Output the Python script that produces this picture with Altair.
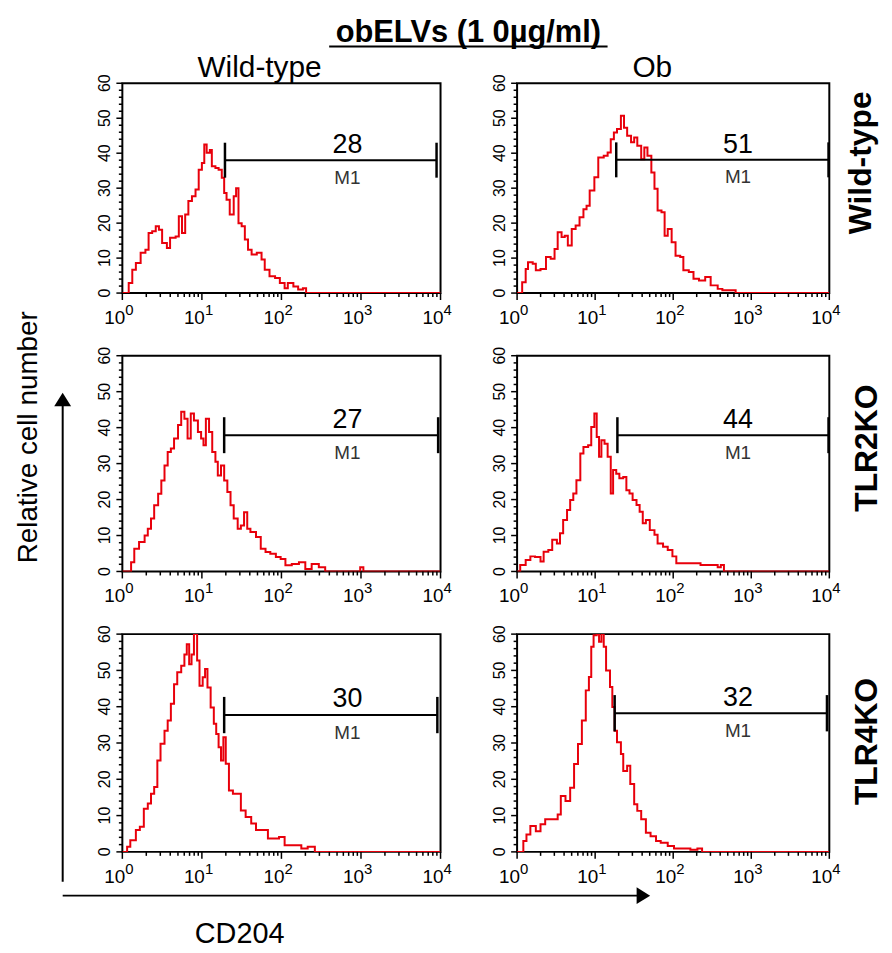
import altair as alt
import pandas as pd

FONT = "Liberation Sans"
RED = "#e8000b"

# ---------------- data ----------------
title_text = "obELVs (1 0\u00b5g/ml)"
col_labels = ["Wild-type", "Ob"]
row_labels = ["Wild-type", "TLR2KO", "TLR4KO"]
y_label = "Relative cell number"
x_label = "CD204"
gate_name = "M1"

# histograms: log10(CD204) positions and cell counts
A_log = [0, 0.08, 0.125, 0.17, 0.23, 0.29, 0.33, 0.375, 0.42, 0.46, 0.5, 0.56, 0.6, 0.67, 0.71, 0.75, 0.79, 0.83, 0.875, 0.92, 0.96, 1.0, 1.03, 1.06, 1.1, 1.125, 1.17, 1.21, 1.25, 1.28, 1.31, 1.35, 1.4, 1.43, 1.46, 1.5, 1.54, 1.58, 1.625, 1.69, 1.75, 1.79, 1.85, 1.92, 1.98, 2.04, 2.08, 2.15, 2.21, 2.27, 2.31, 4.0]
A_n = [0, 2.9, 6.7, 8.6, 11.5, 12.4, 17.2, 17.7, 19.1, 18.1, 14.3, 12.9, 15.8, 16.2, 22, 17.2, 22.5, 26.3, 27.7, 29.6, 35.3, 37.2, 42.5, 40.1, 40.9, 36.3, 35.8, 35.3, 33, 28.6, 26.7, 22.5, 27.7, 30, 20, 19.1, 15.3, 12.4, 11, 11.5, 9.6, 6.7, 4.8, 4.3, 2.9, 1.4, 2.9, 1.9, 1, 1.4, 0, 0]

B_log = [0, 0.065, 0.11, 0.14, 0.2, 0.24, 0.3, 0.37, 0.43, 0.48, 0.52, 0.57, 0.61, 0.65, 0.7, 0.75, 0.8, 0.85, 0.89, 0.93, 0.99, 1.04, 1.11, 1.16, 1.2, 1.24, 1.28, 1.33, 1.37, 1.41, 1.46, 1.5, 1.54, 1.59, 1.63, 1.67, 1.72, 1.76, 1.8, 1.85, 1.89, 1.93, 1.98, 2.03, 2.09, 2.13, 2.2, 2.26, 2.33, 2.41, 2.48, 2.57, 2.63, 2.72, 2.8, 4.0]
B_n = [0, 3.1, 6.9, 8.8, 8.4, 6.5, 6.9, 10.3, 9.8, 12.6, 17.4, 16, 16.4, 13.6, 18.3, 19.3, 21.7, 24, 25, 29.3, 33.1, 38.8, 39.3, 40.2, 44, 45.9, 46.9, 50.7, 47.3, 45, 43.1, 44.5, 42.1, 38.3, 41.6, 39.3, 34.5, 29.8, 23.6, 23.1, 16.4, 18.3, 14.5, 10.7, 10.3, 6.5, 6, 4.1, 3.6, 4.6, 2.2, 1.2, 0.8, 0.8, 0, 0]

C_log = [0, 0.11, 0.15, 0.21, 0.28, 0.32, 0.36, 0.4, 0.45, 0.49, 0.53, 0.57, 0.61, 0.65, 0.7, 0.74, 0.78, 0.82, 0.86, 0.9, 0.95, 0.99, 1.02, 1.05, 1.09, 1.13, 1.17, 1.2, 1.24, 1.28, 1.32, 1.36, 1.4, 1.45, 1.49, 1.53, 1.57, 1.61, 1.68, 1.74, 1.8, 1.86, 1.93, 1.99, 2.05, 2.13, 2.22, 2.3, 2.38, 2.47, 2.55, 2.99, 3.03, 4.0]
C_n = [0, 2.6, 6.3, 8.2, 10, 11.9, 14.7, 18.4, 21.6, 25.3, 29.5, 33.2, 34.2, 37, 40.7, 44.4, 42.5, 37, 43.9, 42, 38.8, 37, 35.1, 42.5, 38.8, 33.2, 30.5, 26.7, 29.5, 25.3, 22.1, 18.4, 14.7, 11.9, 12.8, 16.5, 11.9, 11, 9.6, 6.3, 5.4, 4.9, 4, 3.5, 1.7, 2.1, 2.6, 0.7, 2.1, 1.2, 0, 1.2, 0, 0]

D_log = [0, 0.04, 0.11, 0.17, 0.23, 0.3, 0.34, 0.4, 0.45, 0.51, 0.55, 0.59, 0.64, 0.68, 0.72, 0.76, 0.81, 0.85, 0.91, 0.95, 0.99, 1.02, 1.05, 1.08, 1.12, 1.16, 1.2, 1.23, 1.27, 1.31, 1.36, 1.4, 1.44, 1.48, 1.53, 1.57, 1.61, 1.65, 1.7, 1.76, 1.8, 1.87, 1.93, 1.99, 2.04, 2.35, 2.48, 2.57, 2.61, 2.65, 4.0]
D_n = [0, 1.8, 3.2, 4.2, 4, 2.8, 5.5, 6, 8.8, 7.8, 10.6, 14.3, 17.1, 19.9, 21.7, 25.4, 32.8, 34.6, 35.1, 40.2, 43.9, 37.4, 31.9, 36.5, 35.5, 31.9, 21.7, 28.2, 27.2, 25.9, 26.3, 22.6, 21.7, 19.9, 18.5, 16.6, 13.4, 14.3, 11.5, 10.2, 7.8, 6.9, 6, 4.2, 2.3, 1.8, 1.8, 1.2, 1.8, 0, 0]

E_log = [0, 0.06, 0.1, 0.17, 0.22, 0.27, 0.32, 0.36, 0.4, 0.44, 0.48, 0.53, 0.57, 0.61, 0.65, 0.69, 0.74, 0.78, 0.81, 0.84, 0.87, 0.9, 0.94, 0.97, 1.01, 1.04, 1.07, 1.11, 1.15, 1.18, 1.21, 1.24, 1.27, 1.3, 1.34, 1.39, 1.49, 1.55, 1.62, 1.68, 1.83, 1.97, 2.04, 2.25, 2.33, 2.42, 4.0]
E_n = [0, 1.4, 3.2, 6, 6.9, 11.9, 13.3, 16, 17.9, 25.2, 29.8, 33.4, 36.2, 40.8, 46.2, 49.5, 51.3, 54.4, 57.2, 51.7, 54.4, 60, 52.7, 45.8, 48.1, 50.4, 45.3, 39.8, 35.3, 32.5, 28.8, 25.2, 31.6, 24.3, 16.9, 16, 11.4, 9.6, 7.8, 6, 3.7, 4.1, 1.8, 0.9, 1.4, 0, 0]

F_log = [0, 0.08, 0.12, 0.17, 0.24, 0.3, 0.36, 0.52, 0.56, 0.62, 0.68, 0.73, 0.78, 0.83, 0.88, 0.92, 0.95, 0.98, 1.02, 1.05, 1.08, 1.11, 1.14, 1.19, 1.22, 1.25, 1.28, 1.33, 1.36, 1.41, 1.45, 1.5, 1.54, 1.59, 1.65, 1.71, 1.78, 1.84, 1.93, 2.01, 2.22, 2.31, 2.37, 4.0]
F_n = [0, 3, 4.8, 7.1, 5.7, 7.6, 9, 10.3, 15.4, 14, 17.7, 24.2, 29.7, 36.2, 44.5, 48.2, 56.5, 59.7, 60, 57.9, 60, 56.5, 50, 45.4, 39.9, 33.4, 30.2, 27, 22.3, 23.7, 18.7, 13.1, 11.3, 9, 5.3, 4.3, 3, 2.5, 1.6, 0.9, 0.6, 0.9, 0, 0]

# M1 gates (log10 start, log10 end, level) and percentages, panels A..F
gate_start = [1.29, 1.27, 1.28, 1.285, 1.28, 1.25]
gate_end = [3.95, 3.99, 3.97, 3.99, 3.96, 3.97]
gate_level = [38.0, 38.1, 37.9, 37.9, 37.7, 38.2]
gate_pct = [28, 51, 27, 44, 30, 32]

# axis ticks and labels
decade_base = ["10", "10", "10", "10", "10"]
decade_exp = ["0", "1", "2", "3", "4"]
decade_val = [1, 10, 100, 1000, 10000]
x_minor = [k * 10 ** d for d in range(4) for k in range(2, 10)]
y_major = [0, 10, 20, 30, 40, 50, 60]
y_major_text = ["0", "10", "20", "30", "40", "50", "60"]
y_minor = [v for v in range(0, 61, 2) if v % 10 != 0]

# ---------------- helpers ----------------
XS = alt.Scale(type="log", domain=[1, 10000], nice=False)
YS = alt.Scale(domain=[0, 60], nice=False, zero=True)


def one():
    return alt.Data(values=[{"t": ""}])


def ann_text(text, x, y, size, weight="normal", angle=0, align="center",
             baseline="alphabetic"):
    return alt.Chart(alt.Data(values=[{"t": text}])).mark_text(
        fontSize=size, fontWeight=weight, angle=angle, align=align,
        baseline=baseline, color="black", font=FONT
    ).encode(x=alt.value(x), y=alt.value(y), text="t:N")


def ann_rule(x, x2, y, y2=None, width=2):
    enc = dict(x=alt.value(x), y=alt.value(y))
    if x2 is not None:
        enc["x2"] = alt.value(x2)
    if y2 is not None:
        enc["y2"] = alt.value(y2)
    return alt.Chart(one()).mark_rule(color="black", strokeWidth=width).encode(**enc)


def ann_head(x, y, path):
    return alt.Chart(one()).mark_point(
        shape=path, filled=True, color="black", opacity=1, size=289, strokeWidth=0
    ).encode(x=alt.value(x), y=alt.value(y))


def xtick(vals, H, length):
    return alt.Chart(pd.DataFrame({"v": vals})).mark_rule(
        color="black", strokeWidth=1.5).encode(
        x=alt.X("v:Q", scale=XS, axis=None), y=alt.value(H), y2=alt.value(H + length))


def ytick(vals, length):
    return alt.Chart(pd.DataFrame({"v": vals})).mark_rule(
        color="black", strokeWidth=1.5).encode(
        y=alt.Y("v:Q", scale=YS, axis=None), x=alt.value(-length), x2=alt.value(0))


def panel(i, logs, counts, W, H, extra):
    df = pd.DataFrame({"x": [10 ** v for v in logs], "n": counts})
    hist = alt.Chart(df).mark_line(
        interpolate="step-after", color=RED, strokeWidth=2, clip=True
    ).encode(
        x=alt.X("x:Q", scale=XS, axis=None),
        y=alt.Y("n:Q", scale=YS, axis=None),
    )
    ylab = alt.Chart(pd.DataFrame({"v": y_major, "t": y_major_text})).mark_text(
        angle=270, align="center", baseline="bottom", fontSize=16, color="black"
    ).encode(y=alt.Y("v:Q", scale=YS, axis=None), x=alt.value(-9), text="t:N")
    g = gate_level[i]
    gdf = pd.DataFrame({
        "x0": [10 ** gate_start[i]], "x1": [10 ** gate_end[i]],
        "y": [g], "lo": [g - 5.0], "hi": [g + 5.0],
        "xm": [10 ** 2.83], "yn": [g + 4.3], "ym": [g - 5.0],
        "num": [str(gate_pct[i])], "m": [gate_name],
    })
    gx0 = alt.X("x0:Q", scale=XS, axis=None)
    gx1 = alt.X("x1:Q", scale=XS, axis=None)
    gline = alt.Chart(gdf).mark_rule(color="black", strokeWidth=2).encode(
        x=gx0, x2="x1:Q", y=alt.Y("y:Q", scale=YS, axis=None))
    gl = alt.Chart(gdf).mark_rule(color="black", strokeWidth=2.5).encode(
        x=gx0, y=alt.Y("lo:Q", scale=YS, axis=None), y2="hi:Q")
    gr = alt.Chart(gdf).mark_rule(color="black", strokeWidth=2.5).encode(
        x=gx1, y=alt.Y("lo:Q", scale=YS, axis=None), y2="hi:Q")
    numt = alt.Chart(gdf).mark_text(fontSize=27, baseline="middle", color="black").encode(
        x=alt.X("xm:Q", scale=XS, axis=None), y=alt.Y("yn:Q", scale=YS, axis=None), text="num:N")
    m1 = alt.Chart(gdf).mark_text(fontSize=19, baseline="middle", color="#333").encode(
        x=alt.X("xm:Q", scale=XS, axis=None), y=alt.Y("ym:Q", scale=YS, axis=None), text="m:N")
    ldf = pd.DataFrame({"v": decade_val, "b": decade_base, "s": decade_exp})
    lb = alt.Chart(ldf).mark_text(fontSize=19, align="right", dx=3, baseline="alphabetic",
                                  color="black").encode(
        x=alt.X("v:Q", scale=XS, axis=None), y=alt.value(H + 31), text="b:N")
    ls = alt.Chart(ldf).mark_text(fontSize=15, align="left", dx=3, baseline="alphabetic",
                                  color="black").encode(
        x=alt.X("v:Q", scale=XS, axis=None), y=alt.value(H + 22), text="s:N")
    layers = [hist, xtick(decade_val, H, 7), xtick(x_minor, H, 4),
              ytick(y_major, 6), ytick(y_minor, 3.5), ylab,
              gline, gl, gr, numt, m1, lb, ls]
    return alt.layer(*layers, *extra).properties(width=W, height=H)


W1, W2 = 320, 314
H1, H2, H3 = 211, 217, 219

anchor = alt.Chart(one()).mark_rule(strokeOpacity=0, strokeWidth=1).encode(
    x=alt.value(-113.5), x2=alt.value(-112.5), y=alt.value(-71.5))

A = panel(0, A_log, A_n, W1, H1, [
    anchor,
    ann_text(title_text, 348, -42, 31, weight="bold"),
    ann_rule(208, 488, -37, width=2),
    ann_text(col_labels[0], 138, -6, 30),
])
B = panel(1, B_log, B_n, W2, H1, [
    ann_text(col_labels[1], 136, -6, 30),
    ann_text(row_labels[0], 346, 80, 32, weight="bold", angle=270, baseline="middle"),
])
C = panel(2, C_log, C_n, W1, H2, [
    ann_text(y_label, -94, 82, 28, angle=270, baseline="middle"),
    ann_rule(-60, None, 49, 529, width=2),
    ann_head(-60, 44, "M-1,0.8L0,-0.8L1,0.8Z"),
])
D = panel(3, D_log, D_n, W2, H2, [
    ann_text(row_labels[1], 352, 93, 32, weight="bold", angle=270, baseline="middle"),
])
E = panel(4, E_log, E_n, W1, H3, [
    ann_rule(-60, 518, 263, width=2),
    ann_head(524, 263, "M-0.8,-1L0.8,0L-0.8,1Z"),
    ann_text(x_label, 118, 311, 29),
])
F = panel(5, F_log, F_n, W2, H3, [
    ann_text(row_labels[2], 352, 108, 32, weight="bold", angle=270, baseline="middle"),
])

chart = alt.concat(
    A, B, C, D, E, F, columns=2,
    spacing={"row": 63, "column": 77}, bounds="flush", align="each",
).properties(padding=0).configure(font=FONT).configure_view(
    stroke="black", strokeWidth=2
)

chart.save("out.html", embed_options={"renderer": "svg", "actions": False})
